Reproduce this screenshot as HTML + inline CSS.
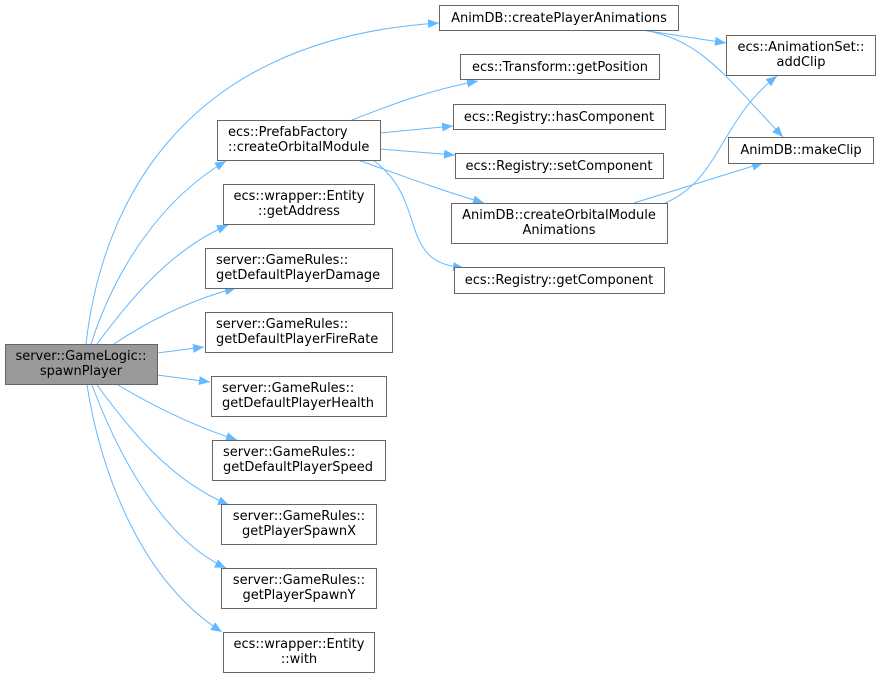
<!DOCTYPE html>
<html><head><meta charset="utf-8"><style>
html,body{margin:0;padding:0;background:#fff;}
svg{display:block;}
text{font-family:"DejaVu Sans","Liberation Sans",sans-serif;font-size:13px;fill:#000;}
.b{fill:#fff;stroke:#666;stroke-width:1;}
.e{fill:none;stroke:#63b8ff;stroke-width:1;marker-end:url(#a);}
</style></head><body>
<svg width="880" height="678" viewBox="0 0 880 678" xmlns="http://www.w3.org/2000/svg">
<defs><marker id="a" markerUnits="userSpaceOnUse" markerWidth="12" markerHeight="10" refX="11" refY="4.5" orient="auto"><path d="M0,0 L11,4.5 L0,9 z" fill="#63b8ff"/></marker></defs>
<path class="e" d="M86,344 C100,220 170,40 439,23"/>
<path class="e" d="M91,344 C115,270 160,200 226,161"/>
<path class="e" d="M97,344 C130,300 170,250 228,225"/>
<path class="e" d="M114,344 C150,320 190,300 236,288"/>
<path class="e" d="M157,353 L204,347"/>
<path class="e" d="M157,375 L210,382"/>
<path class="e" d="M118,385 C160,410 200,428 237,440"/>
<path class="e" d="M97,385 C130,430 170,480 229,505"/>
<path class="e" d="M92,385 C120,460 165,540 226,568"/>
<path class="e" d="M87,385 C100,470 140,580 222,632"/>
<path class="e" d="M352,120 C390,105 430,90 478,81"/>
<path class="e" d="M380,133 L453,126"/>
<path class="e" d="M380,149 L455,155"/>
<path class="e" d="M358,160 C400,175 440,190 484,203"/>
<path class="e" d="M373,160 C400,180 405,200 415,230 C425,260 440,265 464,268"/>
<path class="e" d="M642,30 L726,43"/>
<path class="e" d="M643,30 C700,40 720,70 783,137"/>
<path class="e" d="M665,203 C720,180 720,120 777,76"/>
<path class="e" d="M634,203 L763,163"/>
<rect x="5.5" y="344.5" width="152" height="40" fill="#999" stroke="#666"/>
<text x="81" y="360" text-anchor="middle">server::GameLogic::</text>
<text x="81" y="375" text-anchor="middle">spawnPlayer</text>
<rect class="b" x="439.5" y="5.5" width="239" height="25"/>
<text x="559" y="22" text-anchor="middle">AnimDB::createPlayerAnimations</text>
<rect class="b" x="460.5" y="54.5" width="199" height="25"/>
<text x="560" y="71" text-anchor="middle">ecs::Transform::getPosition</text>
<rect class="b" x="453.5" y="104.5" width="212" height="25"/>
<text x="559" y="121" text-anchor="middle">ecs::Registry::hasComponent</text>
<rect class="b" x="455.5" y="153.5" width="208" height="25"/>
<text x="559" y="170" text-anchor="middle">ecs::Registry::setComponent</text>
<rect class="b" x="451.5" y="203.5" width="216" height="40"/>
<text x="559" y="219" text-anchor="middle">AnimDB::createOrbitalModule</text>
<text x="559" y="234" text-anchor="middle">Animations</text>
<rect class="b" x="454.5" y="267.5" width="210" height="26"/>
<text x="559" y="284" text-anchor="middle">ecs::Registry::getComponent</text>
<rect class="b" x="726.5" y="35.5" width="149" height="40"/>
<text x="801" y="51" text-anchor="middle">ecs::AnimationSet::</text>
<text x="801" y="66" text-anchor="middle">addClip</text>
<rect class="b" x="728.5" y="137.5" width="145" height="26"/>
<text x="801" y="154" text-anchor="middle">AnimDB::makeClip</text>
<rect class="b" x="217.5" y="120.5" width="163" height="40"/>
<text x="228" y="136">ecs::PrefabFactory</text>
<text x="228" y="151">::createOrbitalModule</text>
<rect class="b" x="223.5" y="184.5" width="151" height="40"/>
<text x="299" y="200" text-anchor="middle">ecs::wrapper::Entity</text>
<text x="299" y="215" text-anchor="middle">::getAddress</text>
<rect class="b" x="205.5" y="248.5" width="187" height="40"/>
<text x="216" y="264">server::GameRules::</text>
<text x="216" y="279">getDefaultPlayerDamage</text>
<rect class="b" x="205.5" y="312.5" width="187" height="40"/>
<text x="216" y="328">server::GameRules::</text>
<text x="216" y="343">getDefaultPlayerFireRate</text>
<rect class="b" x="211.5" y="376.5" width="175" height="40"/>
<text x="222" y="392">server::GameRules::</text>
<text x="222" y="407">getDefaultPlayerHealth</text>
<rect class="b" x="212.5" y="440.5" width="173" height="40"/>
<text x="223" y="456">server::GameRules::</text>
<text x="223" y="471">getDefaultPlayerSpeed</text>
<rect class="b" x="221.5" y="504.5" width="155" height="40"/>
<text x="299" y="520" text-anchor="middle">server::GameRules::</text>
<text x="299" y="535" text-anchor="middle">getPlayerSpawnX</text>
<rect class="b" x="221.5" y="568.5" width="155" height="40"/>
<text x="299" y="584" text-anchor="middle">server::GameRules::</text>
<text x="299" y="599" text-anchor="middle">getPlayerSpawnY</text>
<rect class="b" x="223.5" y="632.5" width="151" height="40"/>
<text x="299" y="648" text-anchor="middle">ecs::wrapper::Entity</text>
<text x="299" y="663" text-anchor="middle">::with</text>
</svg>
</body></html>
